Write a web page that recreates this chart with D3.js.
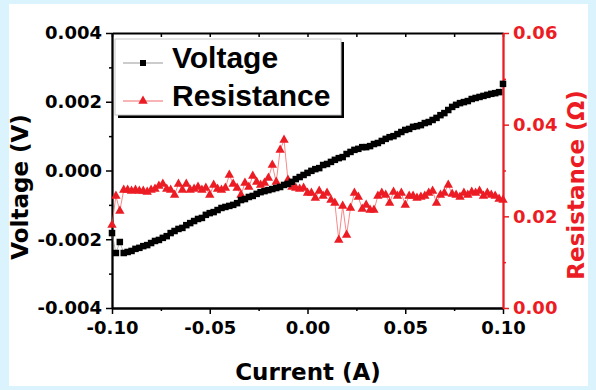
<!DOCTYPE html>
<html>
<head>
<meta charset="utf-8">
<script src="https://cdn.jsdelivr.net/npm/d3@7"></script>
<style>
  html, body { margin: 0; padding: 0; background: #daf3fc; }
  svg { display: block; }
</style>
</head>
<body>
<script>
// current sweep (A)
const current = [
  -0.100, -0.098, -0.096, -0.094, -0.092, -0.090, -0.088, -0.086, -0.084, -0.082,
  -0.080, -0.078, -0.076, -0.074, -0.072, -0.070, -0.068, -0.066, -0.064, -0.062,
  -0.060, -0.058, -0.056, -0.054, -0.052, -0.050, -0.048, -0.046, -0.044, -0.042,
  -0.040, -0.038, -0.036, -0.034, -0.032, -0.030, -0.028, -0.026, -0.024, -0.022,
  -0.020, -0.018, -0.016, -0.014, -0.012, -0.010, -0.008, -0.006, -0.004, -0.002,
  0.000, 0.002, 0.004, 0.006, 0.008, 0.010, 0.012, 0.014, 0.016, 0.018,
  0.020, 0.022, 0.024, 0.026, 0.028, 0.030, 0.032, 0.034, 0.036, 0.038,
  0.040, 0.042, 0.044, 0.046, 0.048, 0.050, 0.052, 0.054, 0.056, 0.058,
  0.060, 0.062, 0.064, 0.066, 0.068, 0.070, 0.072, 0.074, 0.076, 0.078,
  0.080, 0.082, 0.084, 0.086, 0.088, 0.090, 0.092, 0.094, 0.096, 0.098,
  0.100
]

// voltage (V)
const voltage = [
  -0.00182, -0.00240, -0.00208, -0.00240, -0.00237, -0.00234, -0.00228, -0.00225, -0.00220, -0.00217,
  -0.00211, -0.00205, -0.00202, -0.00196, -0.00191, -0.00182, -0.00176, -0.00170, -0.00167, -0.00159,
  -0.00153, -0.00147, -0.00141, -0.00138, -0.00129, -0.00124, -0.00121, -0.00115, -0.00109, -0.00106,
  -0.00103, -0.00100, -0.00095, -0.00086, -0.00083, -0.00077, -0.00074, -0.00068, -0.00063, -0.00060,
  -0.00057, -0.00054, -0.00051, -0.00048, -0.00042, -0.00039, -0.00033, -0.00025, -0.00019, -0.00013,
  -0.00007, -0.00001, 0.00004, 0.00007, 0.00016, 0.00019, 0.00025, 0.00031, 0.00036, 0.00039,
  0.00048, 0.00054, 0.00060, 0.00063, 0.00068, 0.00068, 0.00071, 0.00077, 0.00080, 0.00086,
  0.00092, 0.00097, 0.00100, 0.00106, 0.00112, 0.00118, 0.00121, 0.00127, 0.00129, 0.00132,
  0.00138, 0.00141, 0.00147, 0.00153, 0.00161, 0.00167, 0.00176, 0.00185, 0.00191, 0.00196,
  0.00199, 0.00202, 0.00208, 0.00211, 0.00214, 0.00217, 0.00220, 0.00223, 0.00225, 0.00228,
  0.00252
]

// resistance (ohm)
const resistance = [
  0.01811, 0.02444, 0.02116, 0.02575, 0.02575, 0.02553, 0.02575, 0.02553, 0.02553, 0.02531,
  0.02575, 0.02596, 0.02662, 0.02705, 0.02596, 0.02575, 0.02465, 0.02705, 0.02575, 0.02705,
  0.02575, 0.02596, 0.02640, 0.02575, 0.02618, 0.02465, 0.02684, 0.02596, 0.02575, 0.02618,
  0.02902, 0.02705, 0.02618, 0.02465, 0.02727, 0.02640, 0.02880, 0.02749, 0.02684, 0.02727,
  0.02836, 0.03120, 0.02749, 0.03447, 0.03665, 0.02793, 0.02640, 0.02618, 0.02596, 0.02618,
  0.02509, 0.02509, 0.02400, 0.02553, 0.02444, 0.02509, 0.02356, 0.02291, 0.01484, 0.02225,
  0.01593, 0.02182, 0.02509, 0.02422, 0.02160, 0.02247, 0.02138, 0.02138, 0.02444, 0.02509,
  0.02465, 0.02291, 0.02531, 0.02444, 0.02509, 0.02247, 0.02444, 0.02444, 0.02400, 0.02422,
  0.02444, 0.02509, 0.02553, 0.02291, 0.02465, 0.02509, 0.02684, 0.02487, 0.02465, 0.02422,
  0.02509, 0.02465, 0.02531, 0.02509, 0.02553, 0.02444, 0.02509, 0.02465, 0.02444, 0.02378,
  0.02356
]

const xMajor = [-0.10, -0.05, 0.00, 0.05, 0.10]
const xMinor = [-0.075, -0.025, 0.025, 0.075]
const vMajor = [-0.004, -0.002, 0.000, 0.002, 0.004]
const vMinor = [-0.003, -0.001, 0.001, 0.003]
const rMajor = [0.00, 0.02, 0.04, 0.06]
const rMinor = [0.01, 0.03, 0.05]
const seriesNames = ['Voltage', 'Resistance']

const w = 596
const h = 390
const red = '#ec1c24'
const tickFont = '"DejaVu Sans", sans-serif'
const titleFont = '"DejaVu Sans", sans-serif'
const legendFont = '"Liberation Sans", Arial, sans-serif'

// plain hyphen for negatives, like the original
const fmt = p => d => d3.format(p)(d).replace('\u2212', '-')

const svg = d3.select('body').append('svg')
    .attr('width', w)
    .attr('height', h)

// light blue frame + white panel
svg.append('rect')
    .attr('x', 0).attr('y', 0)
    .attr('width', w).attr('height', h)
    .attr('fill', '#daf3fc')
svg.append('rect')
    .attr('x', 9).attr('y', 4)
    .attr('width', 579).attr('height', 382)
    .attr('fill', '#fff')

const xScale = d3.scaleLinear().domain([-0.1, 0.1]).range([112, 503])
const vScale = d3.scaleLinear().domain([-0.004, 0.004]).range([308, 33])
const rScale = d3.scaleLinear().domain([0, 0.06]).range([308, 33])

const styleAxis = (g, color, font) => {
    g.selectAll('path.domain').attr('stroke', color).attr('stroke-width', 1.8)
    g.selectAll('.tick line').attr('stroke', color).attr('stroke-width', 1.5)
    g.selectAll('.tick text')
        .attr('fill', color)
        .style('font-family', font)
        .style('font-weight', 'bold')
        .style('font-size', '18px')
}

// bottom axis
const bottom = svg.append('g')
    .attr('transform', `translate(0, 308)`)
    .call(d3.axisBottom(xScale).tickValues(xMajor).tickSize(6).tickPadding(7)
        .tickSizeOuter(0).tickFormat(fmt('.2f')))
styleAxis(bottom, '#000', tickFont)
svg.append('g')
    .attr('transform', `translate(0, 308)`)
    .call(d3.axisBottom(xScale).tickValues(xMinor).tickSize(3).tickSizeOuter(0).tickFormat(''))
    .call(g => styleAxis(g, '#000', tickFont))

// top axis, inward ticks
svg.append('g')
    .attr('transform', `translate(0, 33)`)
    .call(d3.axisTop(xScale).tickValues(xMajor.concat(xMinor)).tickSize(-4).tickSizeOuter(0).tickFormat(''))
    .call(g => styleAxis(g, '#000', tickFont))

// left axis (voltage)
const left = svg.append('g')
    .attr('transform', `translate(112, 0)`)
    .call(d3.axisLeft(vScale).tickValues(vMajor).tickSize(6).tickPadding(4)
        .tickSizeOuter(0).tickFormat(fmt('.3f')))
styleAxis(left, '#000', tickFont)
svg.append('g')
    .attr('transform', `translate(112, 0)`)
    .call(d3.axisLeft(vScale).tickValues(vMinor).tickSize(3).tickSizeOuter(0).tickFormat(''))
    .call(g => styleAxis(g, '#000', tickFont))

// right axis (resistance)
const right = svg.append('g')
    .attr('transform', `translate(503, 0)`)
    .call(d3.axisRight(rScale).tickValues(rMajor).tickSize(6).tickPadding(4)
        .tickSizeOuter(0).tickFormat(fmt('.2f')))
styleAxis(right, red, tickFont)
svg.append('g')
    .attr('transform', `translate(503, 0)`)
    .call(d3.axisRight(rScale).tickValues(rMinor).tickSize(3).tickSizeOuter(0).tickFormat(''))
    .call(g => styleAxis(g, red, tickFont))

// axis titles
svg.append('text')
    .attr('x', 308).attr('y', 380)
    .attr('text-anchor', 'middle')
    .style('font-family', titleFont).style('font-weight', 'bold').style('font-size', '23px')
    .text('Current (A)')
svg.append('text')
    .attr('transform', 'translate(28, 187) rotate(-90)')
    .attr('text-anchor', 'middle')
    .style('font-family', titleFont).style('font-weight', 'bold').style('font-size', '23px')
    .text('Voltage (V)')
svg.append('text')
    .attr('transform', 'translate(584, 185) rotate(-90)')
    .attr('text-anchor', 'middle')
    .attr('fill', red)
    .style('font-family', titleFont).style('font-weight', 'bold').style('font-size', '23px')
    .text('Resistance (Ω)')

const data = current.map((c, i) => ({ c, v: voltage[i], r: resistance[i] }))

// resistance series
svg.append('path')
    .datum(data)
    .attr('fill', 'none')
    .attr('stroke', '#f26b6b')
    .attr('stroke-width', 0.8)
    .attr('d', d3.line().x(d => xScale(d.c)).y(d => rScale(d.r)))
const tri = d3.symbol().type(d3.symbolTriangle).size(38)
svg.append('g').selectAll('path')
    .data(data)
    .join('path')
    .attr('transform', d => `translate(${xScale(d.c)}, ${rScale(d.r)})`)
    .attr('d', tri)
    .attr('fill', red)

// voltage series
svg.append('path')
    .datum(data)
    .attr('fill', 'none')
    .attr('stroke', '#888')
    .attr('stroke-width', 0.6)
    .attr('d', d3.line().x(d => xScale(d.c)).y(d => vScale(d.v)))
const sq = 6.5
svg.append('g').selectAll('rect')
    .data(data)
    .join('rect')
    .attr('x', d => xScale(d.c) - sq / 2)
    .attr('y', d => vScale(d.v) - sq / 2)
    .attr('width', sq)
    .attr('height', sq)
    .attr('fill', '#000')

// legend
const legend = svg.append('g')
legend.append('rect')
    .attr('x', 118).attr('y', 42)
    .attr('width', 226).attr('height', 76)
    .attr('fill', '#000')
legend.append('rect')
    .attr('x', 115).attr('y', 39)
    .attr('width', 226).attr('height', 76)
    .attr('fill', '#fff')
    .attr('stroke', '#c8c8c8')
    .attr('stroke-width', 1)

const rows = [63, 101]
legend.selectAll('line.key')
    .data(seriesNames)
    .join('line')
    .attr('class', 'key')
    .attr('x1', 123).attr('x2', 163)
    .attr('y1', (d, i) => rows[i]).attr('y2', (d, i) => rows[i])
    .attr('stroke', (d, i) => i === 0 ? '#999' : '#f26b6b')
    .attr('stroke-width', 1)
legend.append('rect')
    .attr('x', 143 - 3).attr('y', rows[0] - 3)
    .attr('width', 6).attr('height', 6)
    .attr('fill', '#000')
legend.append('path')
    .attr('transform', `translate(143, ${rows[1]})`)
    .attr('d', tri)
    .attr('fill', red)
legend.selectAll('text')
    .data(seriesNames)
    .join('text')
    .attr('x', 172)
    .attr('y', (d, i) => rows[i] + 5)
    .style('font-family', legendFont).style('font-weight', 'bold').style('font-size', '30px')
    .text(d => d)
</script>
</body>
</html>
